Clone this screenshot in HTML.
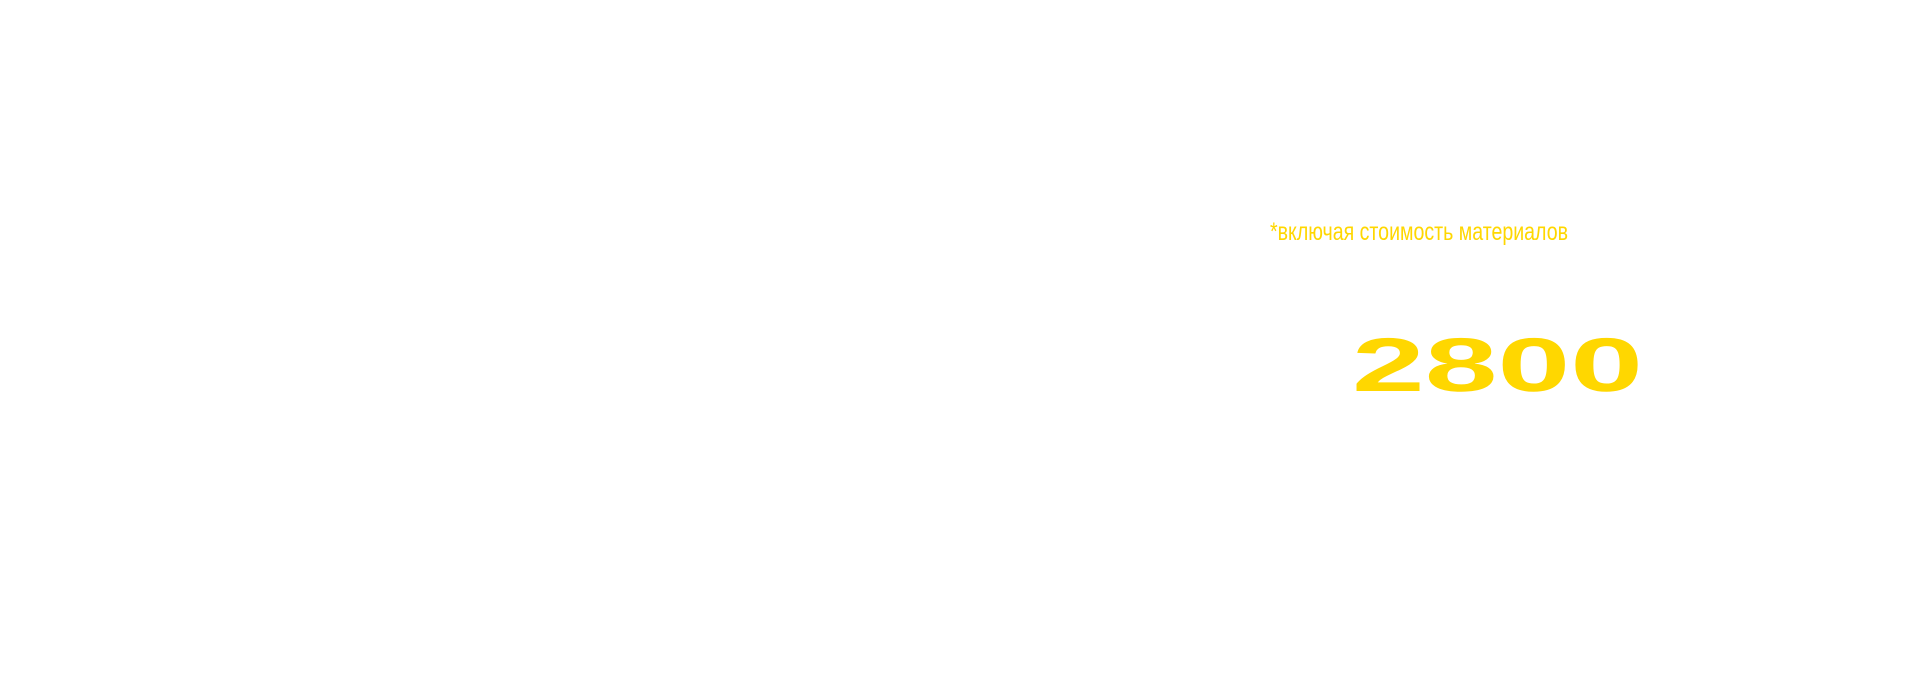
<!DOCTYPE html>
<html><head><meta charset="utf-8"><style>
html,body{margin:0;padding:0;background:#fff;width:1920px;height:700px;overflow:hidden}
</style></head><body>
<svg width="1920" height="700" xmlns="http://www.w3.org/2000/svg">
<rect width="1920" height="700" fill="#fff"/>
<text x="1270" y="240" font-family="Liberation Sans, sans-serif" font-size="25" fill="#FFD700" textLength="298" lengthAdjust="spacingAndGlyphs">*включая стоимость материалов</text>
<text x="1352" y="391" font-family="Liberation Sans, sans-serif" font-weight="bold" font-size="76" fill="#FFD700" textLength="291" lengthAdjust="spacingAndGlyphs">2800</text>
</svg>
</body></html>
